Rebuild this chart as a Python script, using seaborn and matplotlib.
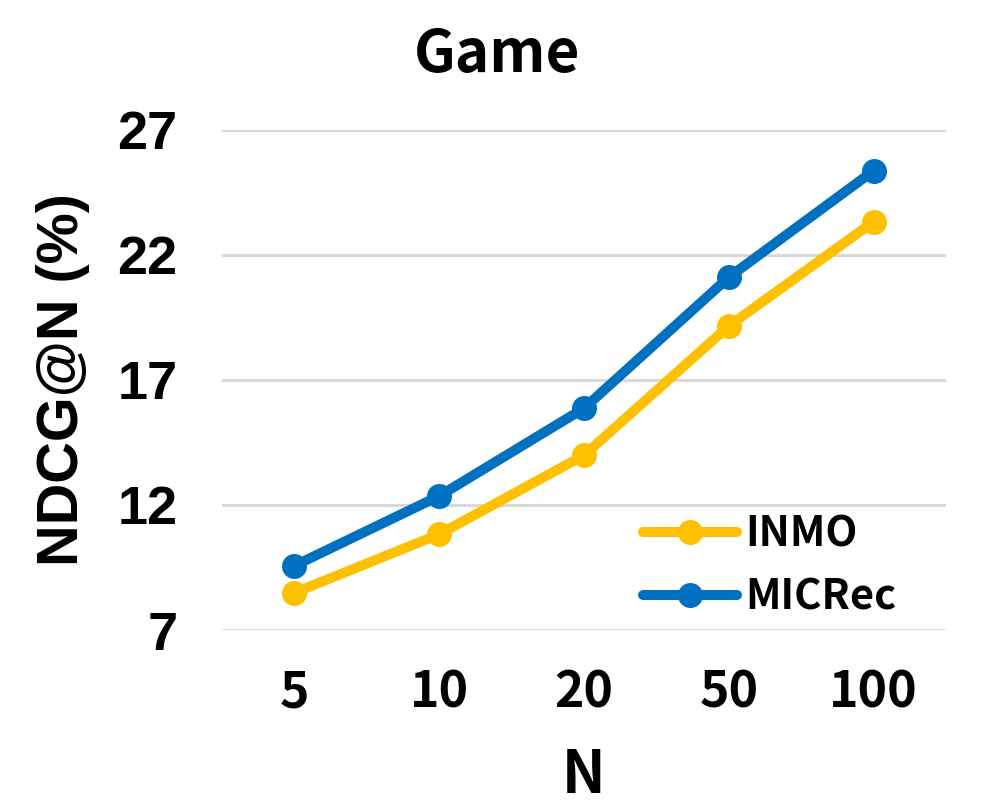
import matplotlib
matplotlib.use("Agg")
import matplotlib.pyplot as plt
import seaborn as sns
import pandas as pd
from matplotlib.lines import Line2D

categories = ["5", "10", "20", "50", "100"]
inmo = [8.49, 10.83, 13.99, 19.16, 23.33]
micrec = [9.57, 12.36, 15.87, 21.11, 25.37]
yticks = [7, 12, 17, 22, 27]
series_names = ["INMO", "MICRec"]
colors = {"INMO": "#FFC000", "MICRec": "#0070C0"}

rows = []
for name, vals in zip(series_names, [inmo, micrec]):
    for i, v in enumerate(vals):
        rows.append({"pos": i, "N": categories[i], "value": v, "model": name})
df = pd.DataFrame(rows)

sns.set_style("white")
plt.rcParams['font.family'] = ['Noto Sans CJK KR', 'DejaVu Sans']
plt.rcParams['text.color'] = 'black'
plt.rcParams['xtick.color'] = 'black'
plt.rcParams['ytick.color'] = 'black'
plt.rcParams['axes.labelcolor'] = 'black'

fig = plt.figure(figsize=(9.95, 8.09), dpi=100)
ax = fig.add_axes([222/995, 1-630/809, (946-222)/995, 500/809])

sns.lineplot(data=df, x="pos", y="value", hue="model", palette=colors,
             marker="o", markersize=18, linewidth=7.2, markeredgewidth=0,
             ax=ax, legend=False, zorder=3)

ax.set_xlim(-0.5, len(categories) - 0.5)
ax.set_ylim(7, 27)
ax.set_yticks(yticks)
ax.set_yticklabels([str(t) for t in yticks], family="Liberation Sans",
                   fontweight="bold", fontsize=39)
ax.set_xticks(range(len(categories)))
ax.set_xticklabels(categories, fontweight="bold", fontsize=36)
ax.tick_params(axis="y", length=0, pad=32)
ax.tick_params(axis="x", length=0, pad=27)
ax.grid(axis="y", color="#D9D9D9", linewidth=2.2, zorder=0)
ax.grid(axis="x", visible=False)
for s in ax.spines.values():
    s.set_visible(False)

ax.set_xlabel("N", fontweight="bold", fontsize=42, labelpad=20)
ax.set_ylabel("NDCG@N (%)", family="Liberation Sans", fontweight="bold",
              fontsize=41.5, labelpad=20)
fig.text(0.5, 1 - 55/809, "Game", ha="center", va="center",
         fontweight="bold", fontsize=42)

handles = [Line2D([0], [0], color=colors[n], lw=7.2, marker="o",
                  markersize=18, markeredgewidth=0) for n in series_names]
leg = ax.legend(handles, series_names, loc="center left",
                bbox_to_anchor=(643/995, 1 - 566/809),
                bbox_transform=fig.transFigure, frameon=False,
                prop={"family": "Noto Sans CJK KR", "weight": "bold", "size": 30},
                handlelength=2.25, handletextpad=0.2, labelspacing=0.5,
                borderaxespad=0, borderpad=0)

fig.savefig("out.png", dpi=100)
